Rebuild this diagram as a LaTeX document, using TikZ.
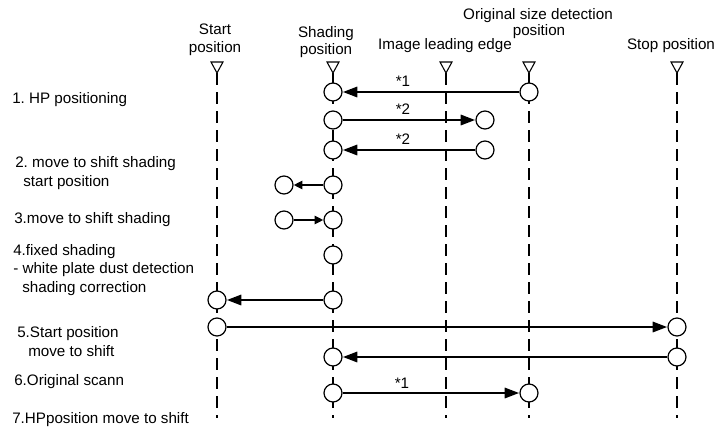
\documentclass[tikz,border=0pt]{standalone}
\usepackage{fontspec}
\setmainfont{Liberation Sans}
\usetikzlibrary{arrows.meta}
\frenchspacing
\begin{document}
\begin{tikzpicture}[x=0.75pt,y=-0.75pt,
  every node/.style={font=\fontsize{11.4}{13.5}\selectfont, inner sep=0pt},
  lbl/.style={anchor=base west},
  hdr/.style={anchor=base},
  guide/.style={line width=0.9pt, dash pattern=on 9pt off 5.25pt},
  tri/.style={draw, line width=0.8pt, fill=white},
  posdot/.style={circle, draw, line width=0.9pt, fill=white, minimum size=13.5pt},
  mv/.style={line width=2.2pt, -{Triangle[length=11pt,width=7.5pt]}},
  mvs/.style={line width=2.2pt, -{Triangle[length=6.5pt,width=6pt]}},
  notelbl/.style={anchor=base}
]
\useasboundingbox (0,0) rectangle (718,432);

% guide lines with position markers
\foreach \n/\x in {S/217, H/333, I/446, O/529, P/677} {
  \coordinate (\n top) at (\x,73);
  \coordinate (\n bot) at (\x,418);
  \draw[guide] (\n top) -- (\n bot);
  \draw[tri] (\x-6,62) -- (\x+6,62) -- (\n top) -- cycle;
}

% header labels
\node[hdr] (tS1) at (215,35) {Start};
\node[hdr] (tS2) at (215,52) {position};
\node[hdr] (tH1) at (326,37) {Shading};
\node[hdr] (tH2) at (326,54) {position};
\node[hdr] (tO1) at (538,20) {Original size detection};
\node[hdr] (tO2) at (539,36) {position};
\node[hdr] (tI) at (445,49) {Image leading edge};
\node[hdr] (tP) at (671,50) {Stop position};

% step labels
\node[lbl] (r1) at (12,103) {1. HP positioning};
\node[lbl] (r2a) at (15,167) {2. move to shift shading};
\node[lbl] (r2b) at (23,186) {start position};
\node[lbl] (r3) at (14,223) {3.move to shift shading};
\node[lbl] (r4a) at (13,255) {4.fixed shading};
\node[lbl] (r4b) at (13,273) {- white plate dust detection};
\node[lbl] (r4c) at (22,292) {shading correction};
\node[lbl] (r5a) at (17,337) {5.Start position};
\node[lbl] (r5b) at (28,356) {move to shift};
\node[lbl] (r6) at (14,385) {6.Original scann};
\node[lbl] (r7) at (12,423) {7.HPposition move to shift};

% positions
\node[posdot] (h1) at (333,92) {};  \node[posdot] (o1) at (529,92) {};
\node[posdot] (h2) at (333,120) {}; \node[posdot] (m2) at (485,120) {};
\node[posdot] (h3) at (333,150) {}; \node[posdot] (m3) at (485,150) {};
\node[posdot] (h4) at (333,185) {}; \node[posdot] (l4) at (284,185) {};
\node[posdot] (h5) at (333,220) {}; \node[posdot] (l5) at (284,220) {};
\node[posdot] (h6) at (333,255) {};
\node[posdot] (h7) at (333,300) {}; \node[posdot] (s7) at (217,300) {};
\node[posdot] (s8) at (217,327) {}; \node[posdot] (p8) at (677,327) {};
\node[posdot] (h9) at (333,357) {}; \node[posdot] (p9) at (677,357) {};
\node[posdot] (h10) at (333,393) {}; \node[posdot] (o10) at (529,393) {};

% movements
\draw[mv] (o1) -- (h1);
\draw[mv] (h2) -- (m2);
\draw[mv] (m3) -- (h3);
\draw[mvs] (h4) -- (l4);
\draw[mvs] (l5) -- (h5);
\draw[mv] (h7) -- (s7);
\draw[mv] (s8) -- (p8);
\draw[mv] (p9) -- (h9);
\draw[mv] (h10) -- (o10);

% notes
\node[notelbl] (k1) at (403,86) {*1};
\node[notelbl] (k2) at (403,114) {*2};
\node[notelbl] (k3) at (403,144) {*2};
\node[notelbl] (k4) at (402,388) {*1};
\end{tikzpicture}
\end{document}
